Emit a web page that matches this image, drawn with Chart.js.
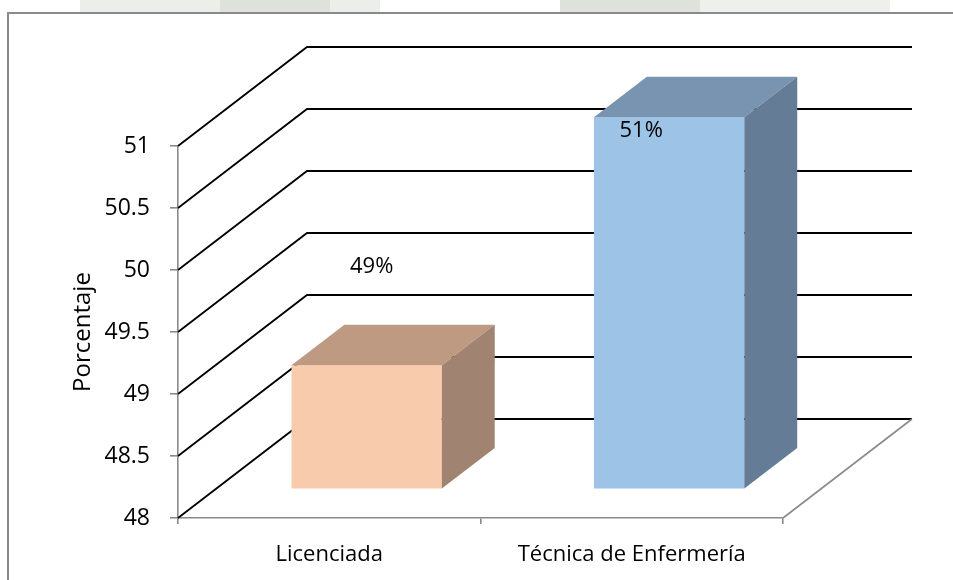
<!DOCTYPE html>
<html>
<head>
<meta charset="utf-8">
<script src="https://cdn.jsdelivr.net/npm/chart.js@4/dist/chart.umd.min.js"></script>
<style>
  html, body { margin: 0; padding: 0; background: #ffffff; }
  #wrap { width: 953px; height: 580px; position: relative; }
</style>
</head>
<body>
<div id="wrap"><canvas id="c" width="953" height="580"></canvas></div>
<script>
// ---- data ----
const categories = ['Licenciada', 'Técnica de Enfermería'];
const values = [49, 51];
const valueLabels = ['49%', '51%'];
const yTickValues = [48, 48.5, 49, 49.5, 50, 50.5, 51];
const barColors = ['#F8CBAD', '#9DC3E6'];
const topColors = ['#BE9A83', '#7894B1'];
const sideColors = ['#A08370', '#647C95'];
const axisTitle = 'Porcentaje';

// ---- 3D look (styling only) ----
const DX = 129, DY = -99;      // full depth vector of the floor / walls
const FRONT = 0.29, BACK = 0.70; // bar depth range
const labelOffsets = [[5, -99], [-28, 13]];
const FONT = "'Open Sans', 'Liberation Sans', sans-serif";

const frame = {
  id: 'frame',
  beforeDraw(chart) {
    const ctx = chart.ctx;
    ctx.save();
    ctx.fillStyle = '#ffffff';
    ctx.fillRect(0, 0, chart.width, chart.height);
    // faint watermark strip above the frame
    ctx.fillStyle = '#eceee9';
    ctx.fillRect(80, 0, 300, 12);
    ctx.fillStyle = '#dde2da';
    ctx.fillRect(220, 0, 110, 12);
    ctx.fillRect(560, 0, 140, 12);
    ctx.fillStyle = '#eef0ec';
    ctx.fillRect(700, 0, 190, 12);
    ctx.strokeStyle = '#8a8a8a';
    ctx.lineWidth = 2;
    ctx.beginPath();
    ctx.moveTo(8, 590);
    ctx.lineTo(8, 13);
    ctx.lineTo(960, 13);
    ctx.stroke();
    ctx.restore();
  }
};

const walls3d = {
  id: 'walls3d',
  beforeDatasetsDraw(chart) {
    const ctx = chart.ctx;
    const {left, right, bottom} = chart.chartArea;
    const ys = chart.scales.y;
    ctx.save();
    ctx.strokeStyle = '#000000';
    ctx.lineWidth = 1.8;
    ctx.lineJoin = 'miter';
    yTickValues.forEach(v => {
      const y = ys.getPixelForValue(v);
      ctx.beginPath();
      ctx.moveTo(left, y);
      ctx.lineTo(left + DX, y + DY);
      ctx.lineTo(right + DX, y + DY);
      ctx.stroke();
    });
    ctx.strokeStyle = '#8a8a8a';
    ctx.lineWidth = 1.6;
    ctx.beginPath();
    ctx.moveTo(right, bottom);
    ctx.lineTo(right + DX, bottom + DY);
    ctx.stroke();
    ctx.restore();
    ctx.save();
    ctx.translate(FRONT * DX, FRONT * DY);
  },
  afterDatasetsDraw(chart) {
    const ctx = chart.ctx;
    const meta = chart.getDatasetMeta(0);
    const ddx = (BACK - FRONT) * DX, ddy = (BACK - FRONT) * DY;
    meta.data.forEach((bar, i) => {
      const p = bar.getProps(['x', 'y', 'base', 'width'], true);
      const l = p.x - p.width / 2, r = p.x + p.width / 2;
      // top face
      ctx.fillStyle = topColors[i];
      ctx.beginPath();
      ctx.moveTo(l, p.y);
      ctx.lineTo(r, p.y);
      ctx.lineTo(r + ddx, p.y + ddy);
      ctx.lineTo(l + ddx, p.y + ddy);
      ctx.closePath();
      ctx.fill();
      // side face
      ctx.fillStyle = sideColors[i];
      ctx.beginPath();
      ctx.moveTo(r, p.y);
      ctx.lineTo(r + ddx, p.y + ddy);
      ctx.lineTo(r + ddx, p.base + ddy);
      ctx.lineTo(r, p.base);
      ctx.closePath();
      ctx.fill();
    });
    // labels
    ctx.fillStyle = '#000000';
    ctx.font = '22px ' + FONT;
    ctx.textAlign = 'center';
    ctx.textBaseline = 'middle';
    meta.data.forEach((bar, i) => {
      const p = bar.getProps(['x', 'y'], true);
      ctx.fillText(valueLabels[i], p.x + labelOffsets[i][0], p.y + labelOffsets[i][1]);
    });
    ctx.restore();
  }
};

new Chart(document.getElementById('c'), {
  type: 'bar',
  data: {
    labels: categories,
    datasets: [{
      data: values,
      base: yTickValues[0],
      backgroundColor: barColors,
      borderWidth: 0,
      categoryPercentage: 1,
      barPercentage: 0.497,
      clip: false
    }]
  },
  options: {
    responsive: false,
    animation: false,
    devicePixelRatio: 1,
    layout: { padding: { left: 0, top: 146, right: 170, bottom: 0 } },
    plugins: { legend: { display: false }, tooltip: { enabled: false } },
    scales: {
      x: {
        type: 'category',
        grid: { offset: true, drawOnChartArea: false, tickLength: 6, color: '#8a8a8a', lineWidth: 1.6 },
        border: { color: '#8a8a8a', width: 1.6 },
        ticks: { color: '#000000', font: { family: FONT, size: 22 }, padding: 18 },
        afterFit(s) { s.height = 62; }
      },
      y: {
        type: 'linear',
        min: 48,
        max: 51,
        afterBuildTicks(s) { s.ticks = yTickValues.map(v => ({ value: v })); },
        grid: { drawOnChartArea: false, tickLength: 8, color: '#8a8a8a', lineWidth: 1.6 },
        border: { color: '#8a8a8a', width: 1.6 },
        ticks: { color: '#000000', font: { family: FONT, size: 23 }, padding: 20,
                 callback: v => String(v) },
        title: { display: true, text: axisTitle, color: '#000000',
                 font: { family: FONT, size: 24 }, padding: { top: 69, bottom: 0 } },
        afterFit(s) { s.width = 178; }
      }
    }
  },
  plugins: [frame, walls3d]
});
</script>
</body>
</html>
